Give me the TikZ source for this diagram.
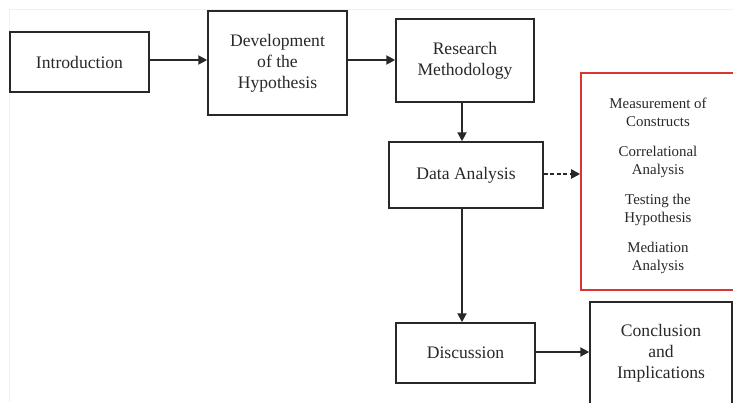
\documentclass[tikz,border=0pt]{standalone}
\usepackage{fontspec}
\setmainfont{Liberation Serif}
\usetikzlibrary{arrows.meta}
\definecolor{boxred}{RGB}{218,52,52}
\definecolor{edge}{RGB}{40,40,40}
\tikzset{
  box/.style={draw=edge, line width=1.5pt, align=center, inner sep=0pt,
    font=\fontsize{17.6}{21}\selectfont, text=edge},
  redbox/.style={draw=boxred, line width=1.6pt, inner sep=0pt},
  subtext/.style={align=center, inner sep=0pt, font=\fontsize{14.9}{18}\selectfont, text=edge},
  flow/.style={draw=edge, line width=2pt, -{Triangle[length=9pt,width=9pt]}},
  dashflow/.style={flow, dash pattern=on 4pt off 2.5pt},
}
\begin{document}
\begin{tikzpicture}[x=1pt,y=-1pt]
\useasboundingbox (0,0) rectangle (733,402);
\begin{scope}
\clip (0,0) rectangle (733,402);
\draw[black!6, line width=1pt] (9,402) -- (9,9) -- (733,9);

\node[box, minimum width=139pt, minimum height=60pt] (intro) at (79.5,62) {Introduction};
\node[box, minimum width=139pt, minimum height=104pt] (dev) at (277.5,63) {Development\\of the\\Hypothesis};
\node[box, minimum width=138pt, minimum height=83pt] (res) at (465,60.5) {Research\\Methodology};
\node[box, minimum width=154pt, minimum height=66pt] (data) at (466,175) {Data Analysis};
\node[redbox, minimum width=156pt, minimum height=217pt] (sub) at (659,181.5) {};
\node[subtext] (subtxt) at (658,186) {Measurement of\\Constructs\\[12pt]Correlational\\Analysis\\[12pt]Testing the\\Hypothesis\\[12pt]Mediation\\Analysis};
\node[box, minimum width=139pt, minimum height=60pt] (disc) at (465.5,353) {Discussion};
\node[box, minimum width=142pt, minimum height=102pt] (concl) at (661,353) {Conclusion\\and\\Implications};

\coordinate (a1) at (0,60);
\draw[flow] (intro.east |- a1) -- (dev.west |- a1);
\draw[flow] (dev.east |- a1) -- (res.west |- a1);
\coordinate (v1) at (462,0);
\draw[flow] (res.south -| v1) -- (data.north -| v1);
\draw[flow] (data.south -| v1) -- (disc.north -| v1);
\coordinate (a2) at (0,174);
\draw[dashflow] (data.east |- a2) -- (sub.west |- a2);
\coordinate (a3) at (0,352);
\draw[flow] (disc.east |- a3) -- (concl.west |- a3);
\end{scope}
\end{tikzpicture}
\end{document}
